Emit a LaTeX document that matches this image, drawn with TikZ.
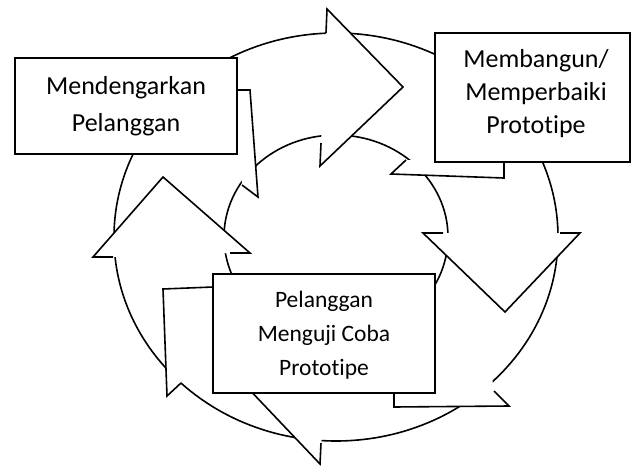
\documentclass[tikz,border=0pt]{standalone}
\usepackage{fontspec}
\setmainfont{Carlito}[Ligatures={NoCommon,NoContextual}]

% one white-filled outline, stroked only along the given edges
\newcommand{\bentuk}[1]{\fill[white] #1 -- cycle; \draw #1;}

\begin{document}
\begin{tikzpicture}[x=1pt, y=-1pt, line width=1.6pt,
    kotak/.style={draw=black, fill=white},
    teks/.style={align=center, font=\fontsize{26}{37}\selectfont}]
    \useasboundingbox (0,0) rectangle (632,466);
    	\begin{scope}
          % ring of the cycle
          \draw[draw = black] (336,237) ellipse (222 and 204);
          \draw[draw = black] (336,237) ellipse (112 and 102);

          % arrow heads
          \bentuk{(326,33) -- (327,9) -- (403,87) -- (320,166) -- (321,143)}
          \bentuk{(443,233) -- (423,233) -- (505,312) -- (580,233) -- (560,233)}
          \bentuk{(321,443) -- (320,464) -- (245,385) -- (343,312) -- (341,330)}
          \bentuk{(230,253) -- (250,253) -- (163,177) -- (93,257) -- (113,257)}

          % tails behind the boxes
          \bentuk{(237,90) -- (250,90) -- (258,197) -- (242,185)}
          \bentuk{(504,162) -- (504,178) -- (391,174) -- (406,160)}
          \bentuk{(213,287) -- (163,289) -- (167,396) -- (181,383)}
          \fill[white] (394,393) -- (394,407) -- (509,406) -- (494,391) -- (492,378) -- (436,378) -- cycle;
          \draw (394,393) -- (394,407) -- (509,406) -- (494,391);

          % boxes
          \draw[kotak] (15,58) rectangle (237,154);
          \draw[kotak] (435,33) rectangle (630,162);
          \draw[kotak] (213,274) rectangle (435,393);
    		\node[teks] at (126,106) (dengar) {Mendengarkan\\Pelanggan};
    		\node[teks, font=\fontsize{26}{33}\selectfont] at (536,94) (bangun) {Membangun/\\Memperbaiki\\Prototipe};
    		\node[teks, font=\fontsize{23.5}{34}\selectfont] at (324,335) (uji) {Pelanggan\\Menguji Coba\\Prototipe};
    	\end{scope}

	\end{tikzpicture}
\end{document}
